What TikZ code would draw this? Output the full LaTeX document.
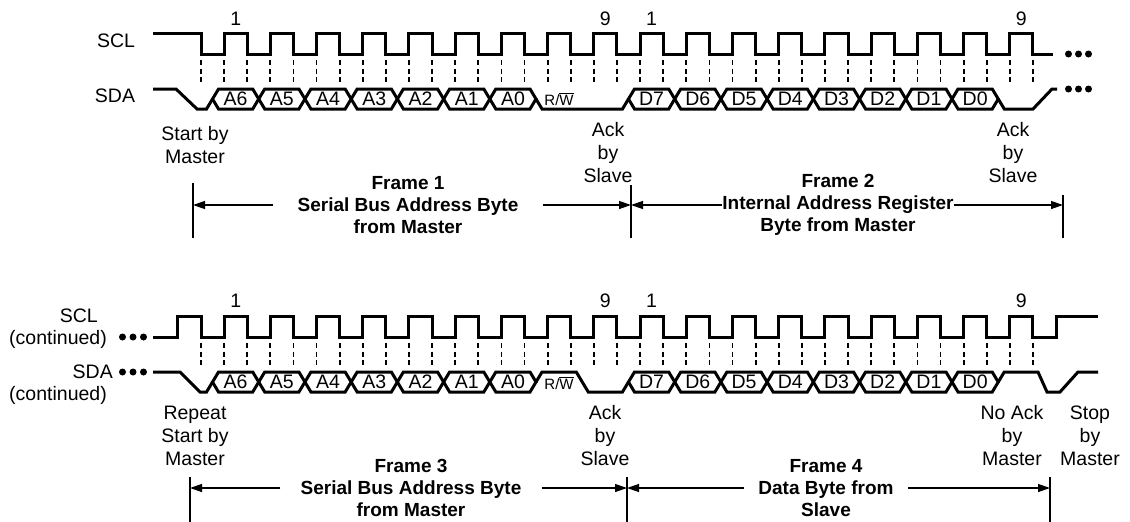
\documentclass[tikz,border=0pt]{standalone}
\usepackage{fontspec}
\setmainfont{Liberation Sans}
\usetikzlibrary{arrows.meta, positioning, calc}

\newcommand{\hp}{23.11}   % half clock period (px)

\begin{document}
\begin{tikzpicture}[x=1pt, y=-1pt,
  wave/.style={line width=3pt, line join=miter},
  clkdash/.style={line width=1.8pt, dash pattern=on 5pt off 3.5pt},
  bar/.style={line width=1.2pt},
  spanarrow/.style={line width=1.3pt, -{Triangle[length=12pt, width=8pt]}},
  lbl/.style={font=\fontsize{19.5}{23}\selectfont, align=center, inner sep=0pt},
  bitlbl/.style={font=\fontsize{19.5}{23}\selectfont, inner sep=0pt},
  rwlbl/.style={font=\fontsize{15}{18}\selectfont, inner sep=0pt},
  framelbl/.style={font=\fontsize{19}{22}\selectfont\bfseries, align=center,
    inner ysep=0pt, inner xsep=#1},
  framelbl/.default=0pt
]
\useasboundingbox (0,0) rectangle (1130,522);

% ---------- first transfer ----------
\node[lbl] (scl1) at (116,41) {SCL};
\node[lbl] (sda1) at (115,96) {SDA};

\draw[wave] (153,33) -- (201,33) -- (201,54)
  \foreach \k in {0,...,17} { -- ({224.1+2*\hp*\k},54) -- ++(0,-21) -- ++(\hp,0) -- ++(0,21) }
  -- (1053,54);
\foreach \n in {0,...,36} \draw[clkdash] ({201+\hp*\n},60) -- ++(0,22);

\draw[wave] (153,89) -- (176,89) -- (197,109) -- (206.5,109) -- (212.5,99);
\foreach \b [count=\i from 0] in {A6,A5,A4,A3,A2,A1,A0} {
  \draw[wave] ({212.5+2*\hp*\i},99) -- ++(6,-10) -- ++(34.22,0) -- ++(6,10)
    -- ++(-6,10) -- ++(-34.22,0) -- cycle;
  \node[bitlbl] (a\i) at ({235.61+2*\hp*\i},99) {\b};
}
\draw[wave] (536.04,99) -- ++(6,10) -- (622.48,109) -- (628.48,99);
\node[rwlbl] (rw1) at (559,99) {R/$\overline{\hbox{W}}$};
\foreach \b [count=\i from 0] in {D7,D6,D5,D4,D3,D2,D1,D0} {
  \draw[wave] ({628.48+2*\hp*\i},99) -- ++(6,-10) -- ++(34.22,0) -- ++(6,10)
    -- ++(-6,10) -- ++(-34.22,0) -- cycle;
  \node[bitlbl] (d\i) at ({651.59+2*\hp*\i},99) {\b};
}
\draw[wave] (998.24,99) -- ++(6,10) -- (1033,109) -- (1052,89) -- (1057,89);
\foreach \x in {1068.5,1078.5,1088.5} {
  \fill (\x,54) circle (3.5pt);
  \fill (\x,89) circle (3.5pt);
}

\node[lbl] (p1) at (235.7,19) {1};
\node[lbl] (p9) at (605.4,19) {9};
\node[lbl] (q1) at (651.6,19) {1};
\node[lbl] (q9) at (1021.4,19) {9};

\node[lbl] (start1) at (195,145) {Start by\\Master};
\node[lbl] (ack1) at (608,153) {Ack\\by\\Slave};
\node[lbl] (ack2) at (1013,153) {Ack\\by\\Slave};

\node[framelbl=24pt] (f1) at (408,205) {Frame 1\\Serial Bus Address Byte\\from Master};
\node[framelbl=0.5pt] (f2) at (838,205) {Frame 2\\Internal Address Register\\Byte from Master};
\draw[bar] (193,183) -- (193,238);
\draw[bar] (631,185) -- (631,238);
\draw[bar] (1063,195) -- (1063,238);
\coordinate (m1) at (193,205);
\coordinate (m2) at (631,205);
\coordinate (m3) at (1063,205);
\draw[spanarrow] (f1.west) -- (m1);
\draw[spanarrow] (f1.east) -- (m2);
\draw[spanarrow] (f2.west) -- (m2);
\draw[spanarrow] (f2.east) -- (m3);

% ---------- second transfer ----------
\node[lbl, anchor=east] (scl2) at (98,316) {SCL};
\node[lbl, anchor=east] (scl2c) at (107,339) {(continued)};
\node[lbl, anchor=east] (sda2) at (113,372) {SDA};
\node[lbl, anchor=east] (sda2c) at (107,395) {(continued)};
\foreach \x in {122.5,133,143.5} {
  \fill (\x,337) circle (3.5pt);
  \fill (\x,372) circle (3.5pt);
}

\draw[wave] (153,337) -- (177.9,337) -- (177.9,316) -- (201,316) -- (201,337)
  \foreach \k in {0,...,17} { -- ({224.1+2*\hp*\k},337) -- ++(0,-21) -- ++(\hp,0) -- ++(0,21) }
  -- (1056,337) -- (1056,316) -- (1098,316);
\foreach \n in {0,...,36} \draw[clkdash] ({201+\hp*\n},343) -- ++(0,22);

\draw[wave] (153,372) -- (180,372) -- (200,392) -- (206.5,392) -- (212.5,382);
\foreach \b [count=\i from 0] in {A6,A5,A4,A3,A2,A1,A0} {
  \draw[wave] ({212.5+2*\hp*\i},382) -- ++(6,-10) -- ++(34.22,0) -- ++(6,10)
    -- ++(-6,10) -- ++(-34.22,0) -- cycle;
  \node[bitlbl] (ab\i) at ({235.61+2*\hp*\i},382) {\b};
}
\draw[wave] (536.04,382) -- ++(6,-10) -- (576.26,372) -- (588.26,392) -- (622.48,392) -- (628.48,382);
\node[rwlbl] (rw2) at (559,383) {R/$\overline{\hbox{W}}$};
\foreach \b [count=\i from 0] in {D7,D6,D5,D4,D3,D2,D1,D0} {
  \draw[wave] ({628.48+2*\hp*\i},382) -- ++(6,-10) -- ++(34.22,0) -- ++(6,10)
    -- ++(-6,10) -- ++(-34.22,0) -- cycle;
  \node[bitlbl] (db\i) at ({651.59+2*\hp*\i},382) {\b};
}
\draw[wave] (998.24,382) -- ++(6,-10) -- (1038,372) -- (1047,392) -- (1060,392) -- (1078,372) -- (1098,372);

\node[lbl] (p1b) at (235.7,301) {1};
\node[lbl] (p9b) at (605.4,301) {9};
\node[lbl] (q1b) at (651.6,301) {1};
\node[lbl] (q9b) at (1021.4,301) {9};

\node[lbl] (start2) at (195,436) {Repeat\\Start by\\Master};
\node[lbl] (ack3) at (605,436) {Ack\\by\\Slave};
\node[lbl] (nack) at (1012,436) {No Ack\\by\\Master};
\node[lbl] (stop) at (1090,436) {Stop\\by\\Master};

\node[framelbl=20pt] (f3) at (411,488) {Frame 3\\Serial Bus Address Byte\\from Master};
\node[framelbl=14.5pt] (f4) at (826,488) {Frame 4\\Data Byte from\\Slave};
\draw[bar] (190,477) -- (190,522);
\draw[bar] (627,477) -- (627,522);
\draw[bar] (1050,477) -- (1050,522);
\coordinate (m4) at (190,488);
\coordinate (m5) at (627,488);
\coordinate (m6) at (1050,488);
\draw[spanarrow] (f3.west) -- (m4);
\draw[spanarrow] (f3.east) -- (m5);
\draw[spanarrow] (f4.west) -- (m5);
\draw[spanarrow] (f4.east) -- (m6);
\end{tikzpicture}
\end{document}
